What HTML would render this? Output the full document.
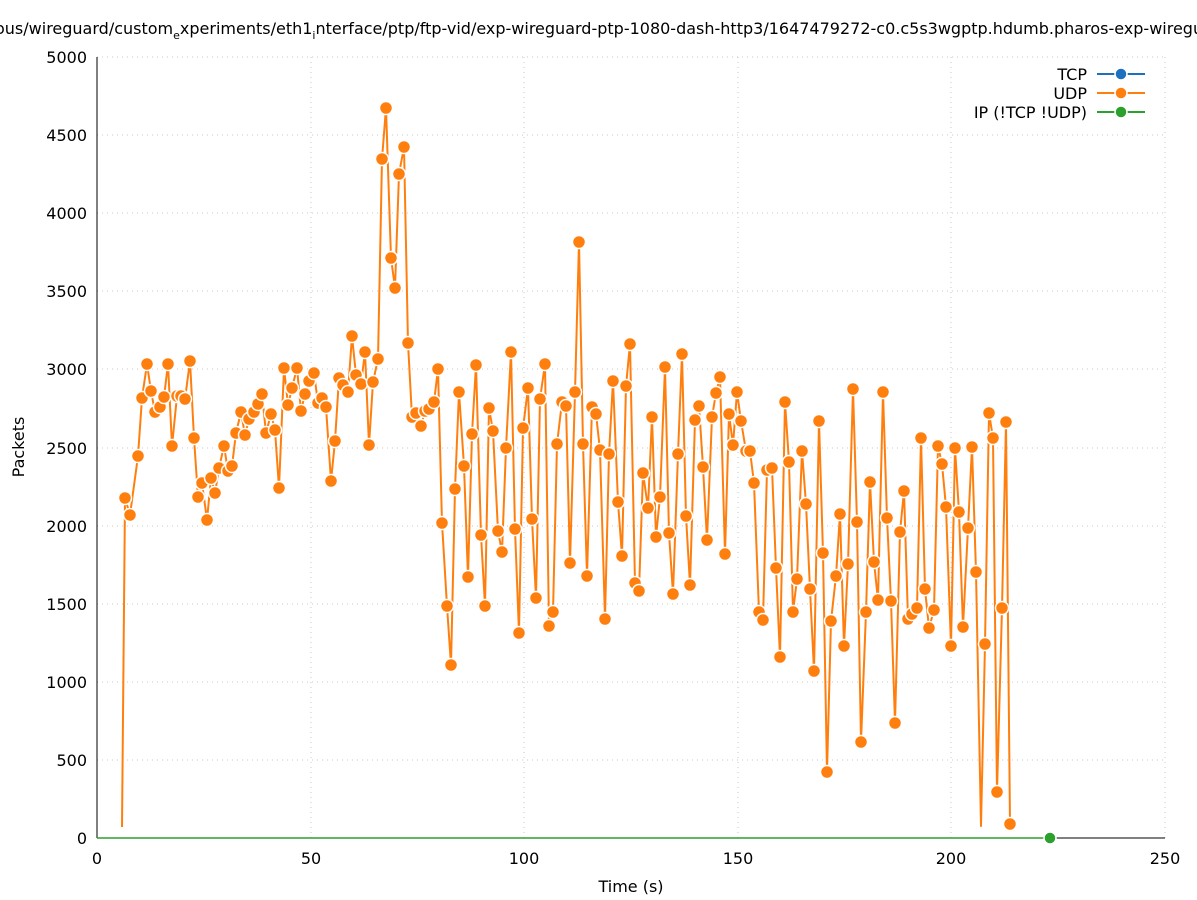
<!DOCTYPE html>
<html><head><meta charset="utf-8"><style>body{margin:0;background:#fff}svg{display:block;font-family:"DejaVu Sans","Liberation Sans",sans-serif}</style></head><body>
<svg width="1197" height="900" viewBox="0 0 1197 900">
<rect width="1197" height="900" fill="#fff"/>
<g stroke="#c8c8c8" stroke-width="1" stroke-dasharray="1,4">
<line x1="97" y1="760" x2="1165" y2="760"/><line x1="97" y1="682" x2="1165" y2="682"/><line x1="97" y1="604" x2="1165" y2="604"/><line x1="97" y1="526" x2="1165" y2="526"/><line x1="97" y1="448" x2="1165" y2="448"/><line x1="97" y1="369" x2="1165" y2="369"/><line x1="97" y1="291" x2="1165" y2="291"/><line x1="97" y1="213" x2="1165" y2="213"/><line x1="97" y1="135" x2="1165" y2="135"/><line x1="97" y1="57" x2="1165" y2="57"/>
<line x1="311" y1="57" x2="311" y2="838"/><line x1="524" y1="57" x2="524" y2="838"/><line x1="738" y1="57" x2="738" y2="838"/><line x1="951" y1="57" x2="951" y2="838"/><line x1="1165" y1="57" x2="1165" y2="838"/>
</g>
<line x1="97" y1="57" x2="97" y2="838" stroke="#000"/>
<line x1="97" y1="838" x2="1165" y2="838" stroke="#000"/>
<g font-size="16" fill="#000" text-anchor="end">
<text x="87" y="844">0</text><text x="87" y="766">500</text><text x="87" y="688">1000</text><text x="87" y="610">1500</text><text x="87" y="532">2000</text><text x="87" y="454">2500</text><text x="87" y="375">3000</text><text x="87" y="297">3500</text><text x="87" y="219">4000</text><text x="87" y="141">4500</text><text x="87" y="63">5000</text>
</g>
<g font-size="16" fill="#000" text-anchor="middle">
<text x="97" y="864">0</text><text x="311" y="864">50</text><text x="524" y="864">100</text><text x="738" y="864">150</text><text x="951" y="864">200</text><text x="1165" y="864">250</text>
<text x="631" y="892">Time (s)</text>
<text transform="translate(24,447) rotate(-90)">Packets</text>
</g>
<text x="-5" y="34" font-size="16">ous/wireguard/custom<tspan dy="5" font-size="11">e</tspan><tspan dy="-5">xperiments/eth1</tspan><tspan dy="5" font-size="11">i</tspan><tspan dy="-5">nterface/ptp/ftp-vid/exp-wireguard-ptp-1080-dash-http3/1647479272-c0.c5s3wgptp.hdumb.pharos-exp-wireguard</tspan></text>
<line x1="97" y1="838" x2="1050" y2="838" stroke="#2ca02c" stroke-width="1.5"/>
<polyline fill="none" stroke="#ff7f0e" stroke-width="2" stroke-linejoin="round" points="122,827 125,498 130,515 138,456 142,398 147,364 151,391 155,412 160,407 164,397 168,364 172,446 177,396 181,396 185,399 190,361 194,438 198,497 202,483 207,520 211,478 215,493 219,468 224,446 228,471 232,466 236,433 241,412 245,435 249,419 254,412 258,404 262,394 266,433 271,414 275,430 279,488 284,368 288,405 292,388 297,368 301,411 305,394 309,381 314,373 318,403 322,398 326,407 331,481 335,441 339,378 343,385 348,392 352,336 356,375 361,384 365,352 369,445 373,382 378,359 382,159 386,108 391,258 395,288 399,174 404,147 408,343 412,417 416,413 421,426 425,411 429,409 434,402 438,369 442,523 447,606 451,665 455,489 459,392 464,466 468,577 472,434 476,365 481,535 485,606 489,408 493,431 498,531 502,552 506,448 511,352 515,529 519,633 523,428 528,388 532,519 536,598 540,399 545,364 549,626 553,612 557,444 562,402 566,406 570,563 575,392 579,242 583,444 587,576 592,407 596,414 600,450 605,619 609,454 613,381 618,502 622,556 626,386 630,344 635,583 639,591 643,473 648,508 652,417 656,537 660,497 665,367 669,533 673,594 678,454 682,354 686,516 690,585 695,420 699,406 703,467 707,540 712,417 716,393 720,377 725,554 729,414 733,445 737,392 741,421 746,451 750,451 754,483 759,612 763,620 767,470 772,468 776,568 780,657 785,402 789,462 793,612 797,579 802,451 806,504 810,589 814,671 819,421 823,553 827,772 831,621 836,576 840,514 844,646 848,564 853,389 857,522 861,742 866,612 870,482 874,562 878,600 883,392 887,518 891,601 895,723 900,532 904,491 908,619 912,614 917,608 921,438 925,589 929,628 934,610 938,446 942,464 946,507 951,646 955,448 959,512 963,627 968,528 972,447 976,572 981,826 985,644 989,413 993,438 997,792 1002,608 1006,422 1010,824"/>
<g fill="#ff7f0e" stroke="#fff" stroke-width="1.5">
<circle cx="125" cy="498" r="6.5"/><circle cx="130" cy="515" r="6.5"/><circle cx="138" cy="456" r="6.5"/><circle cx="142" cy="398" r="6.5"/><circle cx="147" cy="364" r="6.5"/><circle cx="151" cy="391" r="6.5"/><circle cx="155" cy="412" r="6.5"/><circle cx="160" cy="407" r="6.5"/><circle cx="164" cy="397" r="6.5"/><circle cx="168" cy="364" r="6.5"/><circle cx="172" cy="446" r="6.5"/><circle cx="177" cy="396" r="6.5"/><circle cx="181" cy="396" r="6.5"/><circle cx="185" cy="399" r="6.5"/><circle cx="190" cy="361" r="6.5"/><circle cx="194" cy="438" r="6.5"/><circle cx="198" cy="497" r="6.5"/><circle cx="202" cy="483" r="6.5"/><circle cx="207" cy="520" r="6.5"/><circle cx="211" cy="478" r="6.5"/><circle cx="215" cy="493" r="6.5"/><circle cx="219" cy="468" r="6.5"/><circle cx="224" cy="446" r="6.5"/><circle cx="228" cy="471" r="6.5"/><circle cx="232" cy="466" r="6.5"/><circle cx="236" cy="433" r="6.5"/><circle cx="241" cy="412" r="6.5"/><circle cx="245" cy="435" r="6.5"/><circle cx="249" cy="419" r="6.5"/><circle cx="254" cy="412" r="6.5"/><circle cx="258" cy="404" r="6.5"/><circle cx="262" cy="394" r="6.5"/><circle cx="266" cy="433" r="6.5"/><circle cx="271" cy="414" r="6.5"/><circle cx="275" cy="430" r="6.5"/><circle cx="279" cy="488" r="6.5"/><circle cx="284" cy="368" r="6.5"/><circle cx="288" cy="405" r="6.5"/><circle cx="292" cy="388" r="6.5"/><circle cx="297" cy="368" r="6.5"/><circle cx="301" cy="411" r="6.5"/><circle cx="305" cy="394" r="6.5"/><circle cx="309" cy="381" r="6.5"/><circle cx="314" cy="373" r="6.5"/><circle cx="318" cy="403" r="6.5"/><circle cx="322" cy="398" r="6.5"/><circle cx="326" cy="407" r="6.5"/><circle cx="331" cy="481" r="6.5"/><circle cx="335" cy="441" r="6.5"/><circle cx="339" cy="378" r="6.5"/><circle cx="343" cy="385" r="6.5"/><circle cx="348" cy="392" r="6.5"/><circle cx="352" cy="336" r="6.5"/><circle cx="356" cy="375" r="6.5"/><circle cx="361" cy="384" r="6.5"/><circle cx="365" cy="352" r="6.5"/><circle cx="369" cy="445" r="6.5"/><circle cx="373" cy="382" r="6.5"/><circle cx="378" cy="359" r="6.5"/><circle cx="382" cy="159" r="6.5"/><circle cx="386" cy="108" r="6.5"/><circle cx="391" cy="258" r="6.5"/><circle cx="395" cy="288" r="6.5"/><circle cx="399" cy="174" r="6.5"/><circle cx="404" cy="147" r="6.5"/><circle cx="408" cy="343" r="6.5"/><circle cx="412" cy="417" r="6.5"/><circle cx="416" cy="413" r="6.5"/><circle cx="421" cy="426" r="6.5"/><circle cx="425" cy="411" r="6.5"/><circle cx="429" cy="409" r="6.5"/><circle cx="434" cy="402" r="6.5"/><circle cx="438" cy="369" r="6.5"/><circle cx="442" cy="523" r="6.5"/><circle cx="447" cy="606" r="6.5"/><circle cx="451" cy="665" r="6.5"/><circle cx="455" cy="489" r="6.5"/><circle cx="459" cy="392" r="6.5"/><circle cx="464" cy="466" r="6.5"/><circle cx="468" cy="577" r="6.5"/><circle cx="472" cy="434" r="6.5"/><circle cx="476" cy="365" r="6.5"/><circle cx="481" cy="535" r="6.5"/><circle cx="485" cy="606" r="6.5"/><circle cx="489" cy="408" r="6.5"/><circle cx="493" cy="431" r="6.5"/><circle cx="498" cy="531" r="6.5"/><circle cx="502" cy="552" r="6.5"/><circle cx="506" cy="448" r="6.5"/><circle cx="511" cy="352" r="6.5"/><circle cx="515" cy="529" r="6.5"/><circle cx="519" cy="633" r="6.5"/><circle cx="523" cy="428" r="6.5"/><circle cx="528" cy="388" r="6.5"/><circle cx="532" cy="519" r="6.5"/><circle cx="536" cy="598" r="6.5"/><circle cx="540" cy="399" r="6.5"/><circle cx="545" cy="364" r="6.5"/><circle cx="549" cy="626" r="6.5"/><circle cx="553" cy="612" r="6.5"/><circle cx="557" cy="444" r="6.5"/><circle cx="562" cy="402" r="6.5"/><circle cx="566" cy="406" r="6.5"/><circle cx="570" cy="563" r="6.5"/><circle cx="575" cy="392" r="6.5"/><circle cx="579" cy="242" r="6.5"/><circle cx="583" cy="444" r="6.5"/><circle cx="587" cy="576" r="6.5"/><circle cx="592" cy="407" r="6.5"/><circle cx="596" cy="414" r="6.5"/><circle cx="600" cy="450" r="6.5"/><circle cx="605" cy="619" r="6.5"/><circle cx="609" cy="454" r="6.5"/><circle cx="613" cy="381" r="6.5"/><circle cx="618" cy="502" r="6.5"/><circle cx="622" cy="556" r="6.5"/><circle cx="626" cy="386" r="6.5"/><circle cx="630" cy="344" r="6.5"/><circle cx="635" cy="583" r="6.5"/><circle cx="639" cy="591" r="6.5"/><circle cx="643" cy="473" r="6.5"/><circle cx="648" cy="508" r="6.5"/><circle cx="652" cy="417" r="6.5"/><circle cx="656" cy="537" r="6.5"/><circle cx="660" cy="497" r="6.5"/><circle cx="665" cy="367" r="6.5"/><circle cx="669" cy="533" r="6.5"/><circle cx="673" cy="594" r="6.5"/><circle cx="678" cy="454" r="6.5"/><circle cx="682" cy="354" r="6.5"/><circle cx="686" cy="516" r="6.5"/><circle cx="690" cy="585" r="6.5"/><circle cx="695" cy="420" r="6.5"/><circle cx="699" cy="406" r="6.5"/><circle cx="703" cy="467" r="6.5"/><circle cx="707" cy="540" r="6.5"/><circle cx="712" cy="417" r="6.5"/><circle cx="716" cy="393" r="6.5"/><circle cx="720" cy="377" r="6.5"/><circle cx="725" cy="554" r="6.5"/><circle cx="729" cy="414" r="6.5"/><circle cx="733" cy="445" r="6.5"/><circle cx="737" cy="392" r="6.5"/><circle cx="741" cy="421" r="6.5"/><circle cx="746" cy="451" r="6.5"/><circle cx="750" cy="451" r="6.5"/><circle cx="754" cy="483" r="6.5"/><circle cx="759" cy="612" r="6.5"/><circle cx="763" cy="620" r="6.5"/><circle cx="767" cy="470" r="6.5"/><circle cx="772" cy="468" r="6.5"/><circle cx="776" cy="568" r="6.5"/><circle cx="780" cy="657" r="6.5"/><circle cx="785" cy="402" r="6.5"/><circle cx="789" cy="462" r="6.5"/><circle cx="793" cy="612" r="6.5"/><circle cx="797" cy="579" r="6.5"/><circle cx="802" cy="451" r="6.5"/><circle cx="806" cy="504" r="6.5"/><circle cx="810" cy="589" r="6.5"/><circle cx="814" cy="671" r="6.5"/><circle cx="819" cy="421" r="6.5"/><circle cx="823" cy="553" r="6.5"/><circle cx="827" cy="772" r="6.5"/><circle cx="831" cy="621" r="6.5"/><circle cx="836" cy="576" r="6.5"/><circle cx="840" cy="514" r="6.5"/><circle cx="844" cy="646" r="6.5"/><circle cx="848" cy="564" r="6.5"/><circle cx="853" cy="389" r="6.5"/><circle cx="857" cy="522" r="6.5"/><circle cx="861" cy="742" r="6.5"/><circle cx="866" cy="612" r="6.5"/><circle cx="870" cy="482" r="6.5"/><circle cx="874" cy="562" r="6.5"/><circle cx="878" cy="600" r="6.5"/><circle cx="883" cy="392" r="6.5"/><circle cx="887" cy="518" r="6.5"/><circle cx="891" cy="601" r="6.5"/><circle cx="895" cy="723" r="6.5"/><circle cx="900" cy="532" r="6.5"/><circle cx="904" cy="491" r="6.5"/><circle cx="908" cy="619" r="6.5"/><circle cx="912" cy="614" r="6.5"/><circle cx="917" cy="608" r="6.5"/><circle cx="921" cy="438" r="6.5"/><circle cx="925" cy="589" r="6.5"/><circle cx="929" cy="628" r="6.5"/><circle cx="934" cy="610" r="6.5"/><circle cx="938" cy="446" r="6.5"/><circle cx="942" cy="464" r="6.5"/><circle cx="946" cy="507" r="6.5"/><circle cx="951" cy="646" r="6.5"/><circle cx="955" cy="448" r="6.5"/><circle cx="959" cy="512" r="6.5"/><circle cx="963" cy="627" r="6.5"/><circle cx="968" cy="528" r="6.5"/><circle cx="972" cy="447" r="6.5"/><circle cx="976" cy="572" r="6.5"/><circle cx="985" cy="644" r="6.5"/><circle cx="989" cy="413" r="6.5"/><circle cx="993" cy="438" r="6.5"/><circle cx="997" cy="792" r="6.5"/><circle cx="1002" cy="608" r="6.5"/><circle cx="1006" cy="422" r="6.5"/><circle cx="1010" cy="824" r="6.5"/>
</g>
<circle cx="1050" cy="838" r="6" fill="#2ca02c" stroke="#fff" stroke-width="1.5"/>
<g font-size="16" text-anchor="end">
<text x="1087" y="80">TCP</text><text x="1087" y="99">UDP</text><text x="1087" y="118">IP (!TCP  !UDP)</text>
</g>
<line x1="1097" y1="74" x2="1145" y2="74" stroke="#1f6fbf" stroke-width="2"/><circle cx="1121" cy="74" r="6" fill="#1f6fbf" stroke="#fff" stroke-width="1.5"/>
<line x1="1097" y1="93" x2="1145" y2="93" stroke="#ff7f0e" stroke-width="2"/><circle cx="1121" cy="93" r="6" fill="#ff7f0e" stroke="#fff" stroke-width="1.5"/>
<line x1="1097" y1="112" x2="1145" y2="112" stroke="#2ca02c" stroke-width="2"/><circle cx="1121" cy="112" r="6" fill="#2ca02c" stroke="#fff" stroke-width="1.5"/>
</svg>
</body></html>
